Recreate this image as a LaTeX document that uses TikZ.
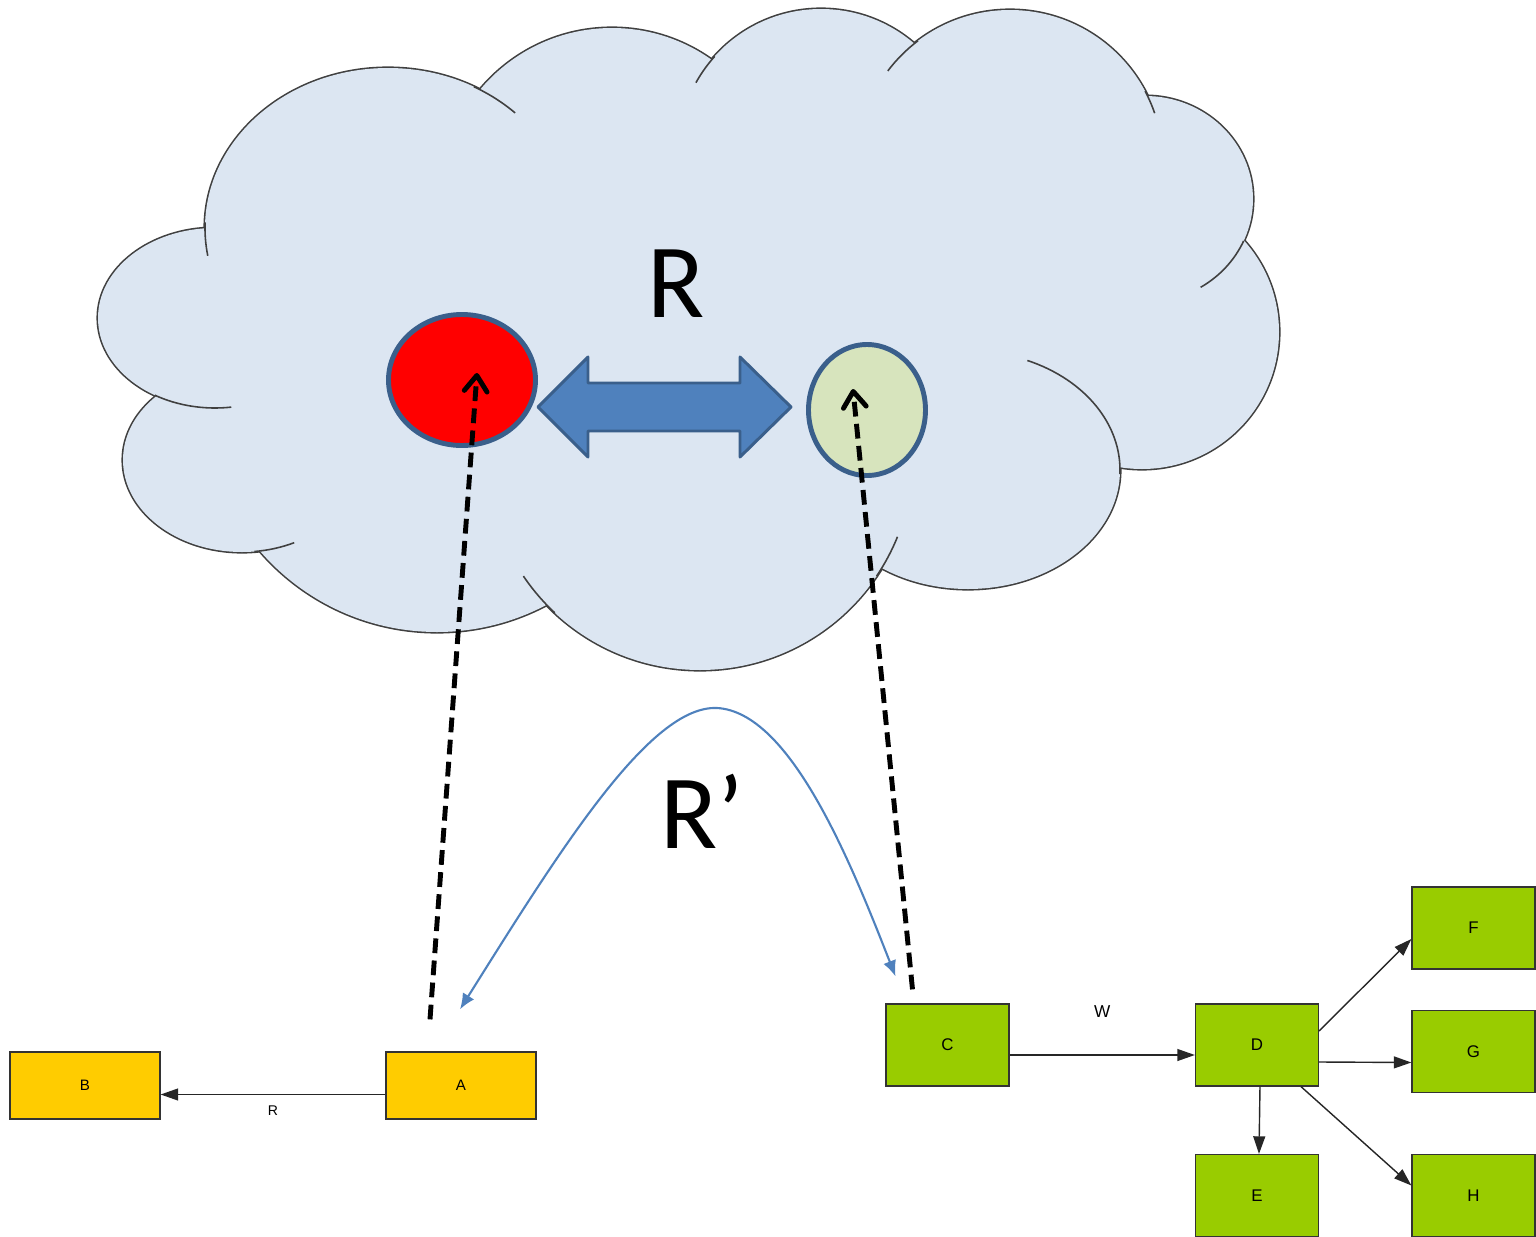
\documentclass[tikz,border=0pt]{standalone}
\usepackage{fontspec}
\setmainfont{Liberation Sans}
\newfontfamily\bigfont{Carlito}
\usetikzlibrary{arrows.meta, calc, shapes.geometric}

\definecolor{cloudfill}{HTML}{DCE6F2}
\definecolor{cloudgray}{HTML}{404040}
\definecolor{ringblue}{HTML}{3A5F8B}
\definecolor{arrowblue}{HTML}{4F81BD}
\definecolor{blobgreen}{HTML}{D7E4BD}
\definecolor{boxyellow}{HTML}{FFCC00}
\definecolor{boxgreen}{HTML}{99CC00}
\definecolor{boxline}{HTML}{333333}

\tikzset{
  cloudline/.style={draw=cloudgray, line width=0.9pt},
  crease/.style={draw=cloudgray, line width=0.45pt},
  box/.style={draw=boxline, line width=0.35pt, minimum width=12.3mm,
    minimum height=8.2mm, inner sep=0pt, font=\fontsize{4.8}{5}\selectfont},
  ybox/.style={box, fill=boxyellow, minimum width=15mm, minimum height=6.7mm,
    font=\fontsize{4.3}{5}\selectfont},
  gbox/.style={box, fill=boxgreen},
  link/.style={draw=black!85, line width=0.4pt, -{Triangle[length=5pt,width=3.4pt]}},
  dashlink/.style={line width=1.4pt, dash pattern=on 4.2pt off 2.1pt,
    -{Straight Barb[length=4.5pt,width=6.5pt,round]}},
  blob/.style={ellipse, draw=ringblue, line width=1.4pt, inner sep=0pt},
}

\begin{document}
\begin{tikzpicture}[x=0.1mm, y=-0.1mm]
  \useasboundingbox (0,0) rectangle (1536,1237);

  % cloud: outline of all lobes, then fill over it
  \foreach \cx/\cy/\rx/\ry in {215/318/117/90, 388/228/183/160, 612/200/172/172,
      821/152/143/143, 1010/163/153/153, 1145/199/108/103, 1142/332/137/137,
      968/470/152/119, 700/457/213/213, 437/398/234/234, 242/460/119/92}
    \draw[cloudline] (\cx,\cy) ellipse[x radius=\rx, y radius=\ry];
  \foreach \cx/\cy/\rx/\ry in {215/318/117/90, 388/228/183/160, 612/200/172/172,
      821/152/143/143, 1010/163/153/153, 1145/199/108/103, 1142/332/137/137,
      968/470/152/119, 700/457/213/213, 437/398/234/234, 242/460/119/92,
      700/340/450/230}
    \fill[cloudfill] (\cx,\cy) ellipse[x radius=\rx, y radius=\ry];
  % the small inner creases
  \foreach \cx/\cy/\rx/\ry/\a/\b in {388/228/183/160/182/170, 388/228/183/160/-62/-46,
      821/152/143/143/222/209, 1010/163/153/153/233/217, 1010/163/153/153/-28/-19,
      1145/199/108/103/24/59, 968/470/152/119/2/-67, 700/457/213/213/34/22,
      700/457/213/213/133/146, 242/460/119/92/84/64, 215/318/117/90/121/82}
    \draw[crease] (\cx,\cy) ++({\a}:{\rx} and {\ry})
      arc[start angle=\a, end angle=\b, x radius=\rx, y radius=\ry];

  % the two replicas and the big arrow
  \node[blob, fill=red, minimum width=14.7mm, minimum height=13.1mm] (red) at (462,380) {};
  \node[blob, fill=blobgreen, minimum width=11.7mm, minimum height=13.1mm] (green) at (867,410) {};
  \draw[ringblue, line width=0.85pt, fill=arrowblue, line join=round]
    (538,407) -- (588,357) -- (588,383) -- (740,383) -- (740,357) -- (791,407)
    -- (740,457) -- (740,431) -- (588,431) -- (588,457) -- cycle;
  \node[font=\bigfont\fontsize{30}{32}\selectfont, inner sep=0pt] (rtop) at (676,284) {R};

  % bottom graphs
  \node[ybox] (A) at (461,1085.5) {A};
  \node[ybox] (B) at (85,1085.5) {B};
  \node[gbox] (C) at (947.5,1045) {C};
  \node[gbox] (D) at (1257,1045) {D};
  \node[gbox] (E) at (1257,1195.5) {E};
  \node[gbox] (F) at (1473.5,928) {F};
  \node[gbox] (G) at (1473.5,1051.5) {G};
  \node[gbox] (H) at (1473.5,1195.5) {H};

  \draw[link] ($(A.west)+(0,9)$) -- ($(B.east)+(0,9)$)
    node[midway, below=1.1mm, inner sep=0pt, font=\fontsize{4}{5}\selectfont] (rlow) {R};
  \draw[link] ($(C.east)+(0,10)$) -- ($(D.west)+(0,10)$)
    node[midway, above=3.7mm, inner sep=0pt, font=\fontsize{4.9}{5}\selectfont] (wlab) {W};
  \draw[link] ($(D.east)+(0,-14)$) -- ($(F.west)+(0,11)$);
  \draw[link] ($(D.east)+(0,17)$) -- ($(G.west)+(0,11)$);
  \draw[link] ($(D.south)+(3,0)$) -- ($(E.north)+(2,0)$);
  \draw[link] ($(D.south)+(44,0)$) -- ($(H.west)+(0,-10)$);

  % mapping up into the cloud
  \coordinate (Adash) at ($(A.north)+(-31,-32)$);
  \coordinate (Cdash) at ($(C.north)+(-35,-14)$);
  \draw[dashlink] (Adash) -- ($(red.center)+(15,-7)$);
  \draw[dashlink] (Cdash) -- ($(green.center)+(-14,-21)$);

  % R' between the graphs
  \coordinate (Acurve) at ($(A.north)+(-1,-42)$);
  \coordinate (Ccurve) at ($(C.north)+(-52,-27)$);
  \draw[arrowblue, line width=0.6pt, {Latex[length=4.5pt,width=3.8pt]}-{Latex[length=4.5pt,width=3.8pt]}]
    (Acurve) .. controls (560,850) and (650,705) .. (717,708)
    .. controls (790,712) and (850,860) .. (Ccurve);
  \node[font=\bigfont\fontsize{30}{32}\selectfont, inner sep=0pt] (rprime) at (702,811) {R’};
\end{tikzpicture}
\end{document}
